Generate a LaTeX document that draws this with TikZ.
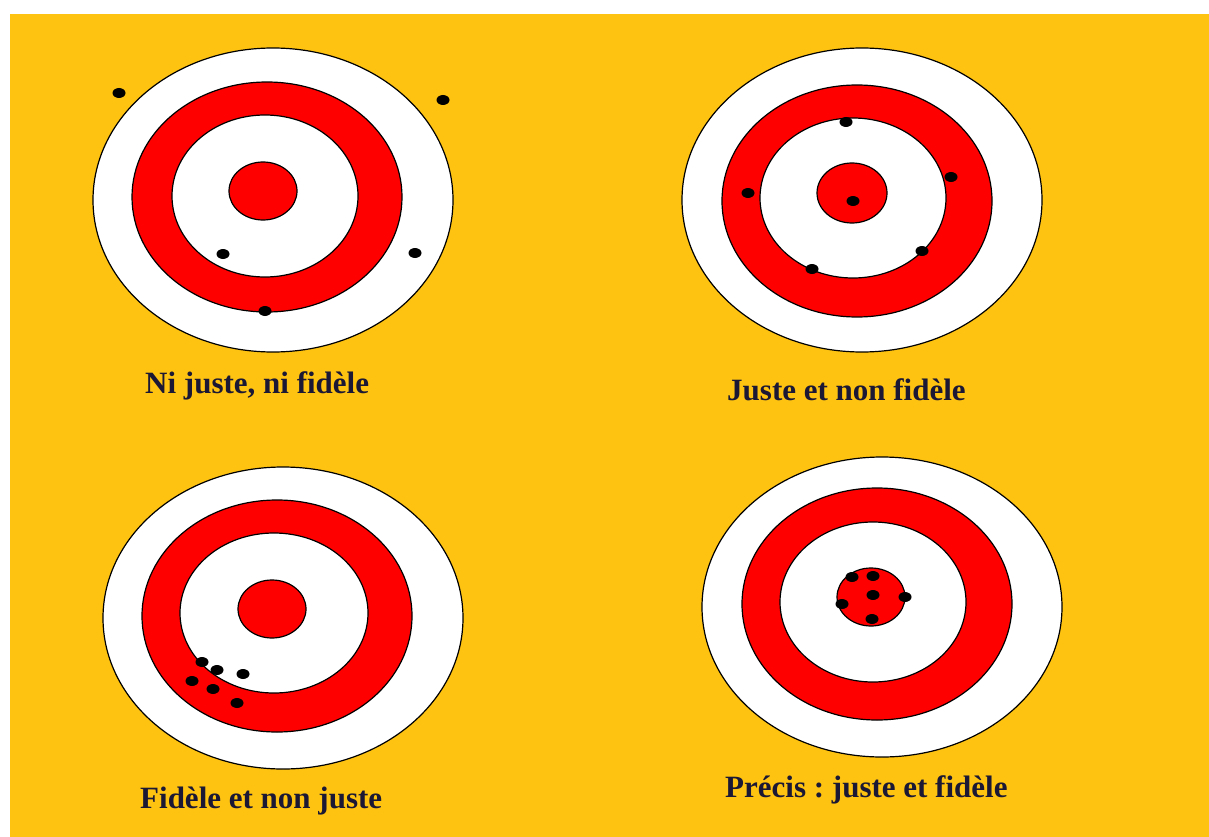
\documentclass[tikz,border=0pt]{standalone}
\usepackage{fontspec}
\setmainfont{Liberation Serif}
\frenchspacing
\definecolor{bgorange}{RGB}{254,194,16}
\definecolor{tred}{RGB}{255,0,0}
\definecolor{txt}{RGB}{26,24,52}
\begin{document}
\begin{tikzpicture}[x=1pt,y=-1pt,
  ring/.style={draw=black,line width=1.2pt},
  hole/.style={fill=black},
  lbl/.style={anchor=base west,inner sep=0pt,text=txt,font=\bfseries\fontsize{31}{37}\selectfont}]
\useasboundingbox (0,0) rectangle (1209,837);
\fill[white] (0,0) rectangle (1209,837);
\fill[bgorange] (10,14) rectangle (1209,837);
% target 1
\draw[ring,fill=white] (273,200) ellipse [x radius=180pt,y radius=152pt];
\draw[ring,fill=tred] (267,197) ellipse [x radius=135pt,y radius=115pt];
\draw[ring,fill=white] (265,196) ellipse [x radius=93pt,y radius=81pt];
\draw[ring,fill=tred] (263,191) ellipse [x radius=34pt,y radius=29pt];
\foreach \p in {(119,93),(443,100),(223,254),(415,253),(265,311)}
  \fill[hole] \p ellipse [x radius=6.5pt,y radius=5pt];
% target 2
\draw[ring,fill=white] (862,200) ellipse [x radius=180pt,y radius=152pt];
\draw[ring,fill=tred] (857,201) ellipse [x radius=135pt,y radius=116pt];
\draw[ring,fill=white] (853,198) ellipse [x radius=93pt,y radius=80pt];
\draw[ring,fill=tred] (852,193) ellipse [x radius=35pt,y radius=30pt];
\foreach \p in {(846,122),(951,177),(748,193),(853,201),(922,251),(812,269)}
  \fill[hole] \p ellipse [x radius=6.5pt,y radius=5pt];
% target 3
\draw[ring,fill=white] (283,618) ellipse [x radius=180pt,y radius=151pt];
\draw[ring,fill=tred] (277,616) ellipse [x radius=135pt,y radius=116pt];
\draw[ring,fill=white] (274,613) ellipse [x radius=94pt,y radius=80pt];
\draw[ring,fill=tred] (272,609) ellipse [x radius=34pt,y radius=29pt];
\foreach \p in {(202,662),(217,670),(243,674),(192,681),(213,689),(237,703)}
  \fill[hole] \p ellipse [x radius=6.5pt,y radius=5pt];
% target 4
\draw[ring,fill=white] (882,607) ellipse [x radius=180pt,y radius=150pt];
\draw[ring,fill=tred] (877,604) ellipse [x radius=135pt,y radius=116pt];
\draw[ring,fill=white] (873,602) ellipse [x radius=93pt,y radius=80pt];
\draw[ring,fill=tred] (871,597) ellipse [x radius=34pt,y radius=29pt];
\foreach \p in {(852,577),(873,576),(873,595),(905,597),(842,604),(872,619)}
  \fill[hole] \p ellipse [x radius=6.5pt,y radius=5pt];
% labels
\node[lbl] (l1) at (145,393) {Ni juste, ni fidèle};
\node[lbl] (l2) at (727,400) {Juste et non fidèle};
\node[lbl] (l3) at (140,808) {Fidèle et non juste};
\node[lbl] (l4) at (725,797) {Précis : juste et fidèle};
\end{tikzpicture}
\end{document}
